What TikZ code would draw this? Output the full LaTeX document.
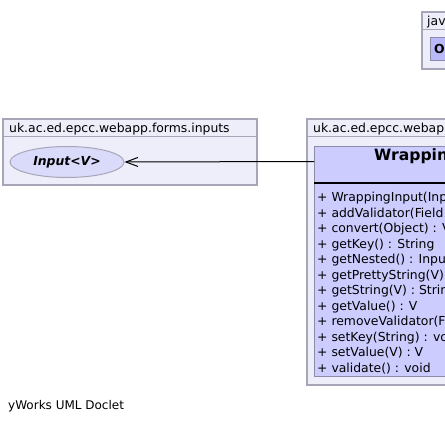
\documentclass[tikz,border=0pt]{standalone}
\usepackage{fontspec}
\setmainfont{DejaVu Sans}
\usetikzlibrary{arrows.meta,shapes.geometric}
\definecolor{pkgfill}{RGB}{238,238,250}
\definecolor{pkgline}{RGB}{166,166,184}
\definecolor{clsfill}{RGB}{204,204,255}
\definecolor{clsline}{RGB}{140,140,170}
\definecolor{ifill}{RGB}{218,218,250}
\definecolor{innerfill}{RGB}{186,186,250}
\tikzset{
  pkgbox/.style={draw=pkgline, fill=pkgfill, line width=1.2pt},
  pkgsep/.style={draw=pkgline, line width=1pt},
  clsbox/.style={draw=clsline, fill=clsfill, line width=1pt},
  txt/.style={inner sep=0pt, font=\fontsize{12.4}{14}\selectfont},
  meth/.style={txt, anchor=base west},
  ifc/.style={ellipse, draw=pkgline, fill=ifill, line width=1pt, minimum width=114pt, minimum height=31pt, inner sep=0pt, font=\fontsize{12.4}{14}\selectfont\bfseries\itshape},
  dep/.style={line width=1pt, -{Straight Barb[length=12pt,width=9pt,line width=1pt]}}
}
\begin{document}
\begin{tikzpicture}[x=1pt,y=-1pt]
\useasboundingbox (0,0) rectangle (445,423);
\clip (0,0) rectangle (445,423);
\fill[white] (0,0) rectangle (445,423);
% java package (top right)
\path[pkgbox] (422,12) rectangle (470,69);
\draw[pkgsep] (422,29) -- (470,29);
\node[txt, anchor=base west] (javlbl) at (427,25) {jav};
\path[clsbox, fill=innerfill] (430,37) rectangle (470,60);
\node[txt, anchor=base west, font=\fontsize{12.4}{14}\selectfont\bfseries] (objlbl) at (434,53) {O};
% left package
\path[pkgbox] (3,119) rectangle (257,185);
\draw[pkgsep] (3,136) -- (257,136);
\node[txt, anchor=base west] (leftlbl) at (9,132) {uk.ac.ed.epcc.webapp.forms.inputs};
\node[ifc] (input) at (67,162) {Input<V>};
% right package
\path[pkgbox] (307,119) rectangle (470,385);
\draw[pkgsep] (307,136) -- (470,136);
\node[txt, anchor=base west] (rightlbl) at (313,132) {uk.ac.ed.epcc.webap};
% class box
\path[clsbox] (314,146) rectangle (470,376);
\draw[line width=2pt] (314,183) -- (470,183);
\node[txt, anchor=base west, font=\fontsize{15.6}{18}\selectfont\bfseries] (wrapname) at (374,160.5) {Wrappin};
\coordinate (wrapin) at (314,161.5);
\foreach \t [count=\i from 0] in {WrappingInput(Inp,addValidator(Field,convert(Object) : V,getKey() : String,getNested() : Inpu,getPrettyString(V),getString(V) : Strin,getValue() : V,removeValidator(F,setKey(String) : vo,setValue(V) : V,validate() : void}
  \node[meth] (m\i) at (317,{201.5+15.5*\i}) {+ \t};
% connector
\draw[dep] (wrapin) -- (input.east);
% footer
\node[txt, anchor=base west, font=\fontsize{12}{14}\selectfont] (footer) at (8,409) {yWorks UML Doclet};
\end{tikzpicture}
\end{document}
